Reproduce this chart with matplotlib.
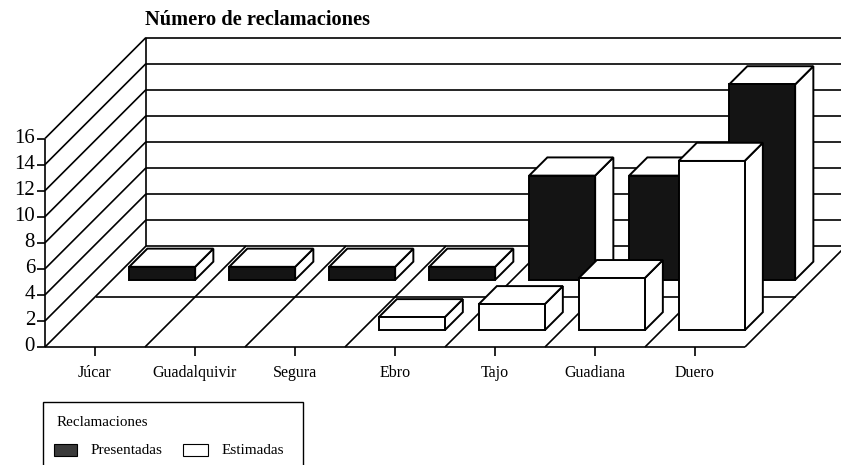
import numpy as np
import matplotlib
matplotlib.use("Agg")
import matplotlib.pyplot as plt
from matplotlib.patches import Polygon, Rectangle

# Data
cuencas = ["Júcar", "Guadalquivir", "Segura", "Ebro", "Tajo", "Guadiana", "Duero"]
presentadas = [1, 1, 1, 1, 8, 8, 15]
estimadas = [0, 0, 0, 1, 2, 4, 13]
yticks = [0, 2, 4, 6, 8, 10, 12, 14, 16]

# Oblique projection: depth d in [0, 1] shifts right and up
DX = 1.01
DY = 7.75

def P(x, v, d):
    return (x + DX * d, v + DY * d)

plt.rcParams['font.family'] = ['Liberation Serif', 'DejaVu Serif']

fig = plt.figure(figsize=(8.41, 4.65), dpi=100)
ax = fig.add_axes([0, 0, 1, 1])
ax.set_xlim(-0.45, 7.96)
ax.set_ylim(-9.056, 26.63)
ax.axis('off')

lw = 1.2
n = len(cuencas)
top = yticks[-1]

def line(p0, p1, z=1, **kw):
    ax.plot([p0[0], p1[0]], [p0[1], p1[1]], color='black', lw=kw.pop('lw', lw),
            solid_capstyle='butt', zorder=z, **kw)

# Walls: left wall diagonals and back wall gridlines
for v in yticks:
    line(P(0, v, 0), P(0, v, 1))
    line(P(0, v, 1), P(n + 1.2, v, 1))
    line((-0.08, v), (0, v))
    ax.text(-0.10, v, str(v), ha='right', va='center', fontsize=15)
line(P(0, 0, 0), P(0, top, 0))
line(P(0, 0, 1), P(0, top, 1))

# Floor
line(P(0, 0, 0), P(n, 0, 0))
line(P(0, 0, 0.5), P(n, 0, 0.5))
for i in range(1, n + 1):
    line(P(i, 0, 0), P(i, 0, 1))
for i, name in enumerate(cuencas):
    line((i + 0.5, 0), (i + 0.5, -0.7))
    ax.text(i + 0.5, -2.0, name, ha='center', va='center', fontsize=11.5)

# Bars
def bar3d(i, row, v, front, z):
    if v <= 0:
        return
    x0, x1 = i + 0.17, i + 0.83
    d0 = 0.5 * row + 0.165
    d1 = d0 + 0.18
    side = [P(x1, 0, d0), P(x1, 0, d1), P(x1, v, d1), P(x1, v, d0)]
    topf = [P(x0, v, d0), P(x1, v, d0), P(x1, v, d1), P(x0, v, d1)]
    frontf = [P(x0, 0, d0), P(x1, 0, d0), P(x1, v, d0), P(x0, v, d0)]
    for pts, fc in [(side, 'white'), (topf, 'white'), (frontf, front)]:
        ax.add_patch(Polygon(pts, closed=True, facecolor=fc, edgecolor='black',
                             lw=1.4, joinstyle='miter', zorder=z))

for i, v in enumerate(presentadas):
    bar3d(i, 1, v, '#141414', 5 + i)
for i, v in enumerate(estimadas):
    bar3d(i, 0, v, 'white', 20 + i)

# Title
ax.text(1.0, 25.1, "Número de reclamaciones", ha='left', va='center',
        fontsize=14.7, fontweight='bold')

# Legend box
W, H = 841.0, 465.0
fig.add_artist(Rectangle((43 / W, -0.05), 260 / W, 0.05 + 1 - 402 / H,
                         transform=fig.transFigure, facecolor='none',
                         edgecolor='black', lw=1.0))
fig.text(57 / W, 1 - 422 / H, "Reclamaciones", ha='left', va='center', fontsize=10.8)
fig.add_artist(Rectangle((54 / W, 1 - 456 / H), 23 / W, 12 / H,
                         transform=fig.transFigure, facecolor='#3a3a3a',
                         edgecolor='black', lw=0.8))
fig.text(91 / W, 1 - 450 / H, "Presentadas", ha='left', va='center', fontsize=11)
fig.add_artist(Rectangle((183 / W, 1 - 456 / H), 25 / W, 12 / H,
                         transform=fig.transFigure, facecolor='white',
                         edgecolor='black', lw=0.8))
fig.text(222 / W, 1 - 450 / H, "Estimadas", ha='left', va='center', fontsize=11)

fig.savefig("out.png", dpi=100)
